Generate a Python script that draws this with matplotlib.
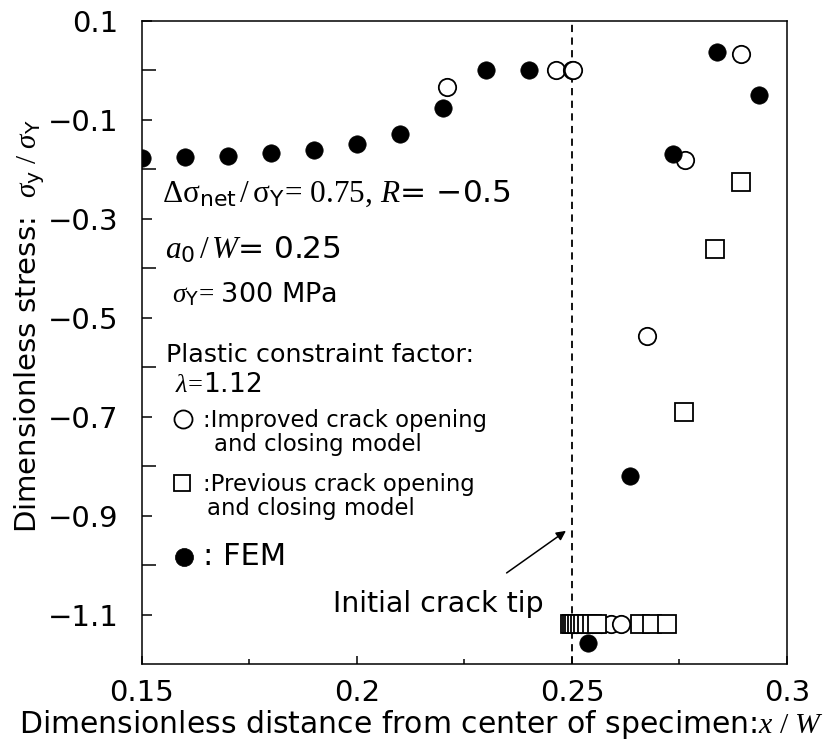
import matplotlib
matplotlib.use("Agg")
import matplotlib.pyplot as plt
from matplotlib.ticker import FixedLocator, FixedFormatter

plt.rcParams["font.family"] = ["DejaVu Sans"]
plt.rcParams["mathtext.fontset"] = "custom"
plt.rcParams["mathtext.rm"] = "Liberation Serif"
plt.rcParams["mathtext.it"] = "Liberation Serif:italic"
plt.rcParams["mathtext.bf"] = "Liberation Serif:bold"
plt.rcParams["mathtext.sf"] = "DejaVu Sans"
plt.rcParams["axes.unicode_minus"] = True

# ---- data -------------------------------------------------------------
fem_x = [0.150, 0.160, 0.170, 0.180, 0.190, 0.200, 0.210, 0.220, 0.230, 0.240,
         0.2537, 0.2635, 0.2736, 0.2837, 0.2936]
fem_y = [-0.177, -0.175, -0.173, -0.168, -0.161, -0.150, -0.129, -0.076, 0.000, 0.000,
         -1.157, -0.820, -0.170, 0.037, -0.050]

improved_x = [0.2209, 0.2464, 0.2499, 0.2502,
              0.2497, 0.2503, 0.2510, 0.2520, 0.2532, 0.2547, 0.2568, 0.2590, 0.2615,
              0.2674, 0.2763, 0.2893]
improved_y = [-0.035, 0.000, 0.000, 0.000,
              -1.120, -1.120, -1.120, -1.120, -1.120, -1.120, -1.120, -1.120, -1.120,
              -0.538, -0.181, 0.032]

previous_x = [0.2495, 0.2500, 0.2505, 0.2511, 0.2518, 0.2526, 0.2535, 0.2546, 0.2558,
              0.2658, 0.2686, 0.2722,
              0.2760, 0.2833, 0.2892]
previous_y = [-1.120, -1.120, -1.120, -1.120, -1.120, -1.120, -1.120, -1.120, -1.120,
              -1.120, -1.120, -1.120,
              -0.690, -0.362, -0.227]

crack_tip_x = 0.25

x_major = [0.15, 0.20, 0.25, 0.30]
x_major_labels = ["0.15", "0.2", "0.25", "0.3"]
x_minor = [0.175, 0.225, 0.275]
y_major = [0.1, -0.1, -0.3, -0.5, -0.7, -0.9, -1.1]
y_major_labels = ["0.1", "\u22120.1", "\u22120.3", "\u22120.5", "\u22120.7", "\u22120.9", "\u22121.1"]
y_minor = [0.0, -0.2, -0.4, -0.6, -0.8, -1.0]

# ---- figure -----------------------------------------------------------
fig = plt.figure(figsize=(8.35, 7.49), dpi=100)
ax = fig.add_axes([0.170, 0.1135, 0.7725, 0.8589])

ax.plot(improved_x, improved_y, linestyle="none", marker="o", ms=12.5,
        mfc="white", mec="black", mew=1.3, zorder=3)
ax.plot(previous_x, previous_y, linestyle="none", marker="s", ms=12.5,
        mfc="white", mec="black", mew=1.3, zorder=3)
ax.plot(fem_x, fem_y, linestyle="none", marker="o", ms=12.5,
        mfc="black", mec="black", mew=0.5, zorder=4)

ax.axvline(crack_tip_x, color="black", lw=1.3, linestyle=(0, (4, 3)), zorder=2)

ax.set_xlim(0.15, 0.30)
ax.set_ylim(-1.2, 0.1)

ax.xaxis.set_major_locator(FixedLocator(x_major))
ax.xaxis.set_major_formatter(FixedFormatter(x_major_labels))
ax.xaxis.set_minor_locator(FixedLocator(x_minor))
ax.yaxis.set_major_locator(FixedLocator(y_major))
ax.yaxis.set_major_formatter(FixedFormatter(y_major_labels))
ax.yaxis.set_minor_locator(FixedLocator(y_minor))

ax.tick_params(axis="both", which="both", direction="in", width=1.1,
               labelsize=21, top=False, right=False)
ax.tick_params(axis="y", which="major", length=7, pad=17)
ax.tick_params(axis="y", which="minor", length=10)
ax.tick_params(axis="x", which="major", length=6, pad=11)
ax.tick_params(axis="x", which="minor", length=3.5)
for s in ax.spines.values():
    s.set_linewidth(1.1)

# axis titles
fig.text(0.5048, 0.0218, "Dimensionless distance from center of specimen:$x\\ /\\ W$",
         ha="center", va="baseline", fontsize=21.5)
fig.text(0.044, 0.564,
         "Dimensionless stress:  $\\sigma_{\\mathsf{y}}\\ /\\ \\sigma_{\\mathsf{Y}}$",
         rotation=90, rotation_mode="anchor", ha="center", va="baseline", fontsize=21)

# condition notes
ax.text(0.1546, -0.2657,
        "$\\Delta\\mathrm{\\sigma}_{\\mathsf{net}}\\,/\\,\\mathrm{\\sigma}_{\\mathsf{Y}}\\!=\\,\\mathrm{0.75},\\,R$= \u22120.5",
        ha="left", va="baseline", fontsize=22.5)
ax.text(0.1553, -0.381, "$a_{\\mathsf{0}}\\,/\\,W$= 0.25", ha="left", va="baseline", fontsize=22.5)
ax.text(0.1569, -0.4677, "$\\sigma_{\\mathsf{Y}}\\!=\\,$300 MPa", ha="left", va="baseline", fontsize=19.5)
ax.text(0.1557, -0.5889, "Plastic constraint factor:", ha="left", va="baseline", fontsize=18.3)
ax.text(0.1577, -0.6495, "$\\lambda\\!=\\!$1.12", ha="left", va="baseline", fontsize=19)

# key
ax.plot([0.1596], [-0.7047], marker="o", ms=13, mfc="white", mec="black", mew=1.3,
        linestyle="none", clip_on=False)
ax.text(0.1643, -0.7202, ":Improved crack opening", ha="left", va="baseline", fontsize=16.4)
ax.text(0.1668, -0.7687, "and closing model", ha="left", va="baseline", fontsize=16.4)
ax.plot([0.1594], [-0.8339], marker="s", ms=12, mfc="white", mec="black", mew=1.3,
        linestyle="none", clip_on=False)
ax.text(0.1642, -0.8495, ":Previous crack opening", ha="left", va="baseline", fontsize=16.4)
ax.text(0.1651, -0.8986, "and closing model", ha="left", va="baseline", fontsize=16.4)
ax.plot([0.1598], [-0.9844], marker="o", ms=13, mfc="black", mec="black", mew=0.5,
        linestyle="none", clip_on=False)
ax.text(0.1642, -0.9996, ": FEM", ha="left", va="baseline", fontsize=22)

# crack tip annotation
ax.annotate("", xy=(0.2486, -0.931), xytext=(0.2348, -1.016),
            arrowprops=dict(arrowstyle="-|>", color="black", lw=1.1,
                            mutation_scale=14, shrinkA=0, shrinkB=0))
ax.text(0.1944, -1.094, "Initial crack tip", ha="left", va="baseline", fontsize=20.5)

fig.savefig("out.png", dpi=100)
